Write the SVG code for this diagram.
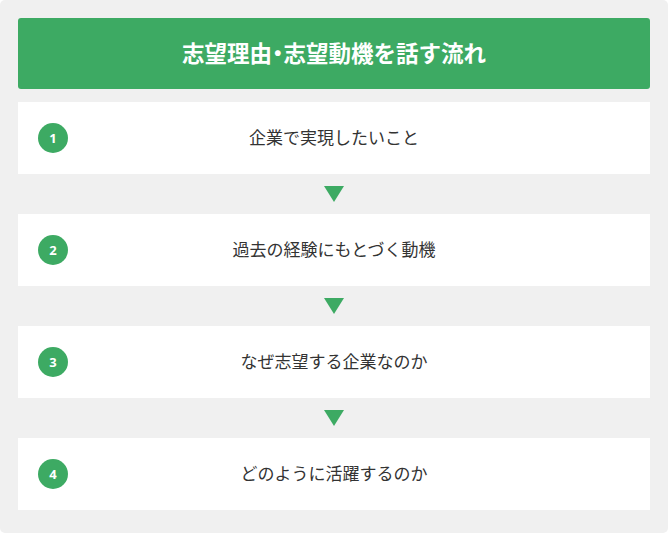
<svg xmlns="http://www.w3.org/2000/svg" width="668" height="533" viewBox="0 0 668 533">
<style>
.card{fill:#ffffff}
.num{fill:#3daa63}
.numt{fill:#ffffff;font-family:"Noto Sans","Liberation Sans",sans-serif;font-weight:bold;font-size:13px;text-anchor:middle}
.lbl{fill:#333333;font-family:"Noto Sans CJK JP",sans-serif;font-size:17px;text-anchor:middle}
.arr{fill:#3daa63}
</style>
<rect x="0" y="0" width="668" height="533" rx="5" fill="#f0f0f0"/>
<g id="header">
<rect x="18" y="18" width="632" height="71" rx="3" fill="#3daa63"/>
<text x="334" y="62" fill="#ffffff" font-family="Noto Sans CJK JP, sans-serif" font-weight="bold" font-size="22.5" text-anchor="middle">志望理由<tspan dx="-5.5">・</tspan><tspan dx="-5.5">志望動機を話す流れ</tspan></text>
</g>
<g id="step1">
<rect class="card" x="18" y="102" width="632" height="72"/>
<circle class="num" cx="53" cy="138" r="15"/>
<text class="numt" x="53" y="142.5">1</text>
<text class="lbl" x="334" y="144">企業で実現したいこと</text>
</g>
<g id="step2">
<rect class="card" x="18" y="214" width="632" height="72"/>
<circle class="num" cx="53" cy="250" r="15"/>
<text class="numt" x="53" y="254.5">2</text>
<text class="lbl" x="334" y="256">過去の経験にもとづく動機</text>
</g>
<g id="step3">
<rect class="card" x="18" y="326" width="632" height="72"/>
<circle class="num" cx="53" cy="362" r="15"/>
<text class="numt" x="53" y="366.5">3</text>
<text class="lbl" x="334" y="368">なぜ志望する企業なのか</text>
</g>
<g id="step4">
<rect class="card" x="18" y="438" width="632" height="72"/>
<circle class="num" cx="53" cy="474" r="15"/>
<text class="numt" x="53" y="478.5">4</text>
<text class="lbl" x="334" y="480">どのように活躍するのか</text>
</g>
<g id="connectors">
<polygon class="arr" points="324,186 344,186 334,202"/>
<polygon class="arr" points="324,298 344,298 334,314"/>
<polygon class="arr" points="324,410 344,410 334,426"/>
</g>
</svg>
